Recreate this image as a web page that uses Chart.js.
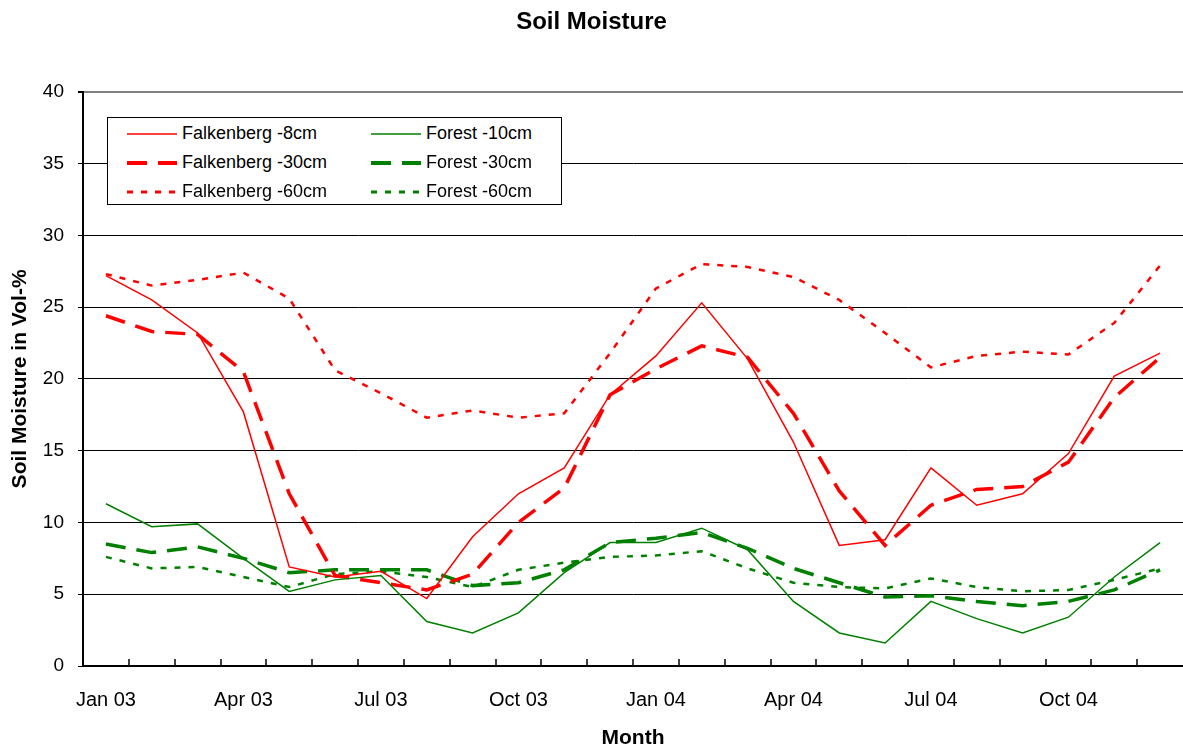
<!DOCTYPE html>
<html>
<head>
<meta charset="utf-8">
<script src="https://cdn.jsdelivr.net/npm/chart.js@4/dist/chart.umd.min.js"></script>
<style>
body{margin:0;background:#fff;font-family:"Liberation Sans",Arial,sans-serif}
#wrap{position:relative;width:1183px;height:747px}
#legend{position:absolute;left:107px;top:117px;width:455px;height:88px;box-sizing:border-box;border:1px solid #000;background:#fff;
  display:grid;grid-template-columns:244px 190px;grid-auto-rows:29px;padding:1px 0 0 19px}
#legend div{display:flex;align-items:center;font-size:18px;color:#000;white-space:nowrap}
#legend svg{margin-right:5px}
</style>
</head>
<body>
<div id="wrap">
  <canvas id="soil" width="1183" height="747"></canvas>
  <div id="legend"></div>
</div>
<script>
const months=['Jan 03','Feb 03','Mar 03','Apr 03','May 03','Jun 03','Jul 03','Aug 03','Sep 03','Oct 03','Nov 03','Dec 03',
              'Jan 04','Feb 04','Mar 04','Apr 04','May 04','Jun 04','Jul 04','Aug 04','Sep 04','Oct 04','Nov 04','Dec 04'];
const falk8 =[27.2,25.5,23.2,17.7,6.9,6.2,6.6,4.7,9.0,12.0,13.8,18.9,21.6,25.3,21.4,15.6,8.4,8.8,13.8,11.2,12.0,14.8,20.2,21.8];
const falk30=[24.4,23.3,23.1,20.5,12.0,6.3,5.8,5.3,6.4,10.0,12.4,18.9,20.7,22.3,21.5,17.6,12.2,8.4,11.2,12.3,12.5,14.2,18.7,21.5];
const falk60=[27.3,26.5,26.9,27.4,25.6,20.6,19.0,17.3,17.8,17.3,17.6,21.8,26.3,28.0,27.8,27.1,25.5,23.2,20.8,21.6,21.9,21.7,23.9,27.9];
const forest10=[11.3,9.7,9.9,7.5,5.2,6.0,6.3,3.1,2.3,3.7,6.5,8.6,8.6,9.6,8.1,4.5,2.3,1.6,4.5,3.3,2.3,3.4,6.2,8.6];
const forest30=[8.5,7.9,8.3,7.5,6.5,6.7,6.7,6.7,5.6,5.8,6.7,8.6,8.9,9.3,8.2,6.8,5.8,4.8,4.9,4.5,4.2,4.5,5.3,6.7];
const forest60=[7.6,6.8,6.9,6.2,5.5,6.4,6.6,6.2,5.5,6.7,7.2,7.6,7.7,8.0,6.8,5.8,5.5,5.4,6.1,5.5,5.2,5.3,6.0,6.8];

const RED='#ff0000',GREEN='#008000';
const solid={width:1.5,dash:[]},dashed={width:3.5,dash:[20,11]},dotted={width:2.5,dash:[6,8]};
const mk=(label,data,color,st)=>({label,data,borderColor:color,backgroundColor:color,borderWidth:st.width,
  borderDash:st.dash,borderCapStyle:'butt',pointRadius:0,tension:0,fill:false});

// legend order is row by row: Falkenberg | Forest
const datasets=[
  mk('Falkenberg -8cm',falk8,RED,solid),
  mk('Forest -10cm',forest10,GREEN,solid),
  mk('Falkenberg -30cm',falk30,RED,dashed),
  mk('Forest -30cm',forest30,GREEN,dashed),
  mk('Falkenberg -60cm',falk60,RED,dotted),
  mk('Forest -60cm',forest60,GREEN,dotted)
];

const innerTicks={id:'innerTicks',beforeDatasetsDraw(c){
  const s=c.scales.x,ctx=c.ctx;
  ctx.save();ctx.strokeStyle='#000';ctx.lineWidth=1.5;
  for(let i=1;i<months.length;i++){
    const x=Math.round((s.getPixelForValue(i-1)+s.getPixelForValue(i))/2);
    ctx.beginPath();ctx.moveTo(x,s.top);ctx.lineTo(x,s.top-7);ctx.stroke();
  }
  ctx.restore();
}};

new Chart(document.getElementById('soil'),{
  type:'line',
  data:{labels:months,datasets},
  plugins:[innerTicks],
  options:{
    responsive:false,devicePixelRatio:1,animation:false,
    layout:{padding:{left:0,right:0,top:0,bottom:0}},
    plugins:{
      legend:{display:false},tooltip:{enabled:false},
      title:{display:true,text:'Soil Moisture',color:'#000',
        font:{family:'"Liberation Sans", Arial, sans-serif',size:24,weight:'bold'},padding:{top:8,bottom:55}}
    },
    scales:{
      x:{offset:true,
        grid:{display:false,drawTicks:false,offset:true},
        border:{color:'#000',width:2},
        ticks:{autoSkip:false,maxRotation:0,color:'#000',padding:22,
          font:{family:'"Liberation Sans", Arial, sans-serif',size:20},
          callback:(v,i)=>i%3===0?months[i]:''},
        title:{display:true,text:'Month',color:'#000',padding:0,
          font:{family:'"Liberation Sans", Arial, sans-serif',size:21,weight:'bold',lineHeight:0.85}},
        afterFit:s=>{s.height=81;}
      },
      y:{min:0,max:40,
        ticks:{stepSize:5,color:'#000',padding:14,
          font:{family:'"Liberation Sans", Arial, sans-serif',size:19}},
        grid:{color:c=>c.tick&&c.tick.value===40?'#808080':'#000',
              lineWidth:c=>c.tick&&c.tick.value===40?2:1,tickLength:5,tickColor:'#000'},
        border:{color:'#000',width:2},
        title:{display:true,text:'Soil Moisture in Vol-%',color:'#000',padding:{top:8,bottom:0},
          font:{family:'"Liberation Sans", Arial, sans-serif',size:21,weight:'bold'}},
        afterFit:s=>{s.width=83;}
      }
    }
  }
});

// html legend built from the datasets
const lg=document.getElementById('legend');
datasets.forEach(d=>{
  const item=document.createElement('div');
  const svgNS='http://www.w3.org/2000/svg';
  const svg=document.createElementNS(svgNS,'svg');
  svg.setAttribute('width','50');svg.setAttribute('height','10');
  const ln=document.createElementNS(svgNS,'line');
  ln.setAttribute('x1','0');ln.setAttribute('x2','50');ln.setAttribute('y1','5');ln.setAttribute('y2','5');
  ln.setAttribute('stroke',d.borderColor);
  ln.setAttribute('stroke-width',d.borderWidth===3.5?4:d.borderWidth===2.5?3:1.5);
  if(d.borderDash.length) ln.setAttribute('stroke-dasharray',d.borderDash.join(' '));
  svg.appendChild(ln);
  const sp=document.createElement('span');sp.textContent=d.label;
  item.appendChild(svg);item.appendChild(sp);
  lg.appendChild(item);
});
</script>
</body>
</html>
